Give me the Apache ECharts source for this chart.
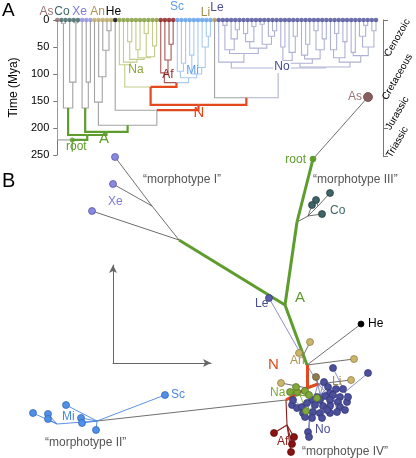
<!DOCTYPE html>
<html><head><meta charset="utf-8">
<script src="https://cdn.jsdelivr.net/npm/echarts@6/dist/echarts.min.js"></script>
<style>html,body{margin:0;padding:0;background:#fff}#c{width:416px;height:458px}</style>
</head><body><div id="c"></div>
<script>
// ================= PANEL A DATA (time tree, node ages in Mya) =================
const cladeCo  = "((Co,Co)6,(Co,(Co,Co)5)115)163g";
const cladeXe  = "(Xe,(Xe,Xe)115)163g";
const cladeAn  = "(An,(An,(An,(An,An)20)56)105)152";
const cladeNa  = "(Na,(Na,((Na,Na)40,((Na,Na)55,((Na,Na)25,(Na,Na)48)68)70)73)78)83";
const cladeAf  = "(Af,(Af,(Af,Af)45)74)98";
const cladeMi  = "((Mi,(Mi,Sc)80)95,((Mi,Mi)65,(Mi,(Mi,(Mi,Mi)30)50)88)100)107";
const cladeNoA = "(Le,(((No,No)10,(No,(No,No)18)35)55,(((No,No)25,(No,No)12)40,((No,No)8,(No,(No,No)20)30)45)52)62)78";
const cladeNoB = "((((No,No)50,(No,(No,No)30)60)75,((No,(No,No)45)65,((No,No)20,(No,No)35)55)72)80,(((No,(No,No)25)55,(No,No)40)70,((No,No)60,((No,(No,No)10)30,(No,No)20)50)66)78)87";
const treeNewick = `(As,(${cladeCo},(${cladeXe},(${cladeAn},(He,((${cladeNa},(${cladeAf},${cladeMi})116r)124r,(Li,(${cladeNoA},${cladeNoB})89)144r)157r)167)195g)207g)213g)222`;
const rootStemEnd = 244;
const timeTicks = [0, 250, 50];            // min, max, interval
const periodNames  = ["Cenozoic", "Cretaceous", "Jurassic", "Triassic"];
const periodBounds = [0, 66, 145, 201, 252];

// ================= PANEL B DATA (morphospace PC1, PC2) =================
const bRoot = [1.05, 0.70];
const bAs = [1.60, 1.32];
const bCo = [[1.22,0.36],[1.08,0.29],[1.04,0.24],[1.14,0.15]];
const bXe = [[-0.93,0.72],[-0.95,0.45],[-1.16,0.18]];
const bAn = [[1.02,-1.13],[0.91,-1.24],[1.46,-1.30],[0.73,-1.54],[1.43,-1.51]];
const bLi = [1.08,-1.48];
const bHe = [1.53,-0.95];
const bLe = [0.61,-0.69];
const bNa = [[0.82,-1.63],[0.89,-1.63],[0.88,-1.58],[0.97,-1.62],[1.01,-1.66],[1.09,-1.69],[0.98,-1.82]];
const bAf = [[0.66,-2.04],[0.86,-2.08],[0.84,-2.15],[0.83,-2.23]];
const bMi = [[-1.75,-1.84],[-1.60,-1.85],[-1.60,-1.90],[-1.42,-1.76],[-1.27,-1.89],[-1.26,-1.94],[-1.12,-2.01]];
const bSc = [-0.43,-1.66];
const bNo = [[1.25,-1.39],[1.60,-1.44],[1.16,-1.53],[1.20,-1.58],[1.28,-1.60],[1.35,-1.60],[1.22,-1.64],[1.17,-1.67],
  [1.25,-1.66],[1.32,-1.68],[1.39,-1.73],[1.30,-1.73],[1.22,-1.71],[1.12,-1.71],[1.04,-1.71],[0.84,-1.76],
  [0.89,-1.79],[0.94,-1.78],[0.99,-1.74],[1.07,-1.76],[1.15,-1.77],[1.22,-1.77],[1.32,-1.78],[1.37,-1.81],
  [0.95,-1.84],[1.05,-1.83],[1.12,-1.84],[1.22,-1.84],[0.97,-1.88],[1.04,-1.89],[1.14,-1.89],[1.00,-2.03],
  [1.01,-2.08],[0.85,-1.71],[1.09,-1.68],[1.19,-1.81],[1.40,-1.68],[1.29,-1.83]];
const bNoParent = [3,3,0,0,3,3,0,0,1,1,3,1,1,0,0,2,2,2,2,2,0,1,1,1,2,2,2,1,2,2,2,2,2,2,0,1,3,1];
// reconstructed ancestral nodes
const bNodes = { gA:[0.89,0.07], coN:[1.00,0.13], coN2:[1.10,0.23], gB:[0.77,-0.76], x0:[-0.29,-0.11],
  x1:[-0.56,0.23], gC:[0.99,-1.36], anN:[0.95,-1.27], nN:[0.99,-1.59], naN:[0.78,-1.71], naH:[0.92,-1.66],
  afN:[0.79,-1.96], m0:[-1.11,-1.92], m1:[-1.51,-1.95], noN:[1.10,-1.55],
  h0:[1.12,-1.66], h1:[1.27,-1.73], h2:[1.02,-1.83], h3:[1.37,-1.63] };
const bEdgesGreen = [['root','gA'],['gA','gB'],['gB','gC'],['x0','gB']];
const bEdgesRed = [['gC','nN'],['nN','naN'],['nN','noN']];
const bEdgesGray = [['root','As'],['x0','x1'],['x1','Xe0'],['x1','Xe1'],['x0','Xe2'],['gA','coN'],['coN','coN2'],
  ['coN2','Co0'],['coN2','Co1'],['coN','Co2'],['coN','Co3'],['gC','He'],['gC','anN'],['anN','An0'],['anN','An1'],
  ['gC','An2'],['nN','An3'],['noN','An4'],['noN','Li'],['m0','naN']];
const bEdgesMi = [['m0','m1'],['m1','Mi0'],['m1','Mi1'],['m1','Mi2'],['m0','Mi3'],['m0','Mi4'],['m0','Mi5'],['m0','Mi6'],['m0','Sc']];

// ================= STYLE =================
const FONT = "Liberation Sans, Arial, Helvetica, sans-serif";
const GREEN = '#5E9C2E', RED = '#E3491D', GRAY = '#A3A3A3';
const tipColor = {As:'#8E6A6A', Co:'#3F6363', Xe:'#8C8CE0', An:'#B8A662', He:'#000000', Na:'#7E9A3A',
  Af:'#8B1A1A', Mi:'#5B9BEA', Sc:'#5B9BEA', Li:'#A89048', Le:'#4A4E96', No:'#4A4E96'};
const cladeOf = {Na:'Na', Af:'Af', Mi:'Mi', Sc:'Mi', Le:'No', No:'No'};
const cladeLine = {Na:'#C3CC8A', Af:'#A85656', Mi:'#A8CAF2', No:'#AFB1D4'};

// ================= BUILD TREE A =================
function parseNewick(s){
  let i = 0, tipIdx = 0;
  function node(){
    if (s[i] === '('){
      i++; const ch = [];
      while (true){ ch.push(node()); if (s[i] === ','){ i++; continue; } if (s[i] === ')'){ i++; break; } }
      let lab = ''; while (i < s.length && /[0-9a-z.]/.test(s[i])) lab += s[i++];
      const m = lab.match(/^([0-9.]+)([a-z]?)$/);
      return {children: ch, age: +m[1], mark: m[2] || ''};
    }
    let nm = ''; while (i < s.length && /[A-Za-z]/.test(s[i])) nm += s[i++];
    return {tip: nm, idx: tipIdx++, age: 0, mark: ''};
  }
  return node();
}
const tree = parseNewick(treeNewick);
const tips = [];
function layout(n){
  if (n.children){
    n.children.forEach(layout);
    n.x = (n.children[0].x + n.children[n.children.length-1].x) / 2;
    n.groups = new Set(); n.children.forEach(c => c.groups.forEach(g => n.groups.add(g)));
  } else { n.x = n.idx; n.groups = new Set([cladeOf[n.tip] || n.tip]); tips.push(n); }
}
layout(tree);
function edgeColor(n){
  if (n.mark === 'g') return GREEN;
  if (n.mark === 'r') return RED;
  if (n.groups.size === 1){ const g = [...n.groups][0]; if (cladeLine[g]) return cladeLine[g]; }
  return GRAY;
}
const treeEdges = [];
(function walk(n){
  if (!n.children) return;
  n.children.forEach(c => {
    const col = edgeColor(c);
    const strong = (col === GREEN || col === RED);
    treeEdges.push({coords: [[n.x, n.age], [c.x, n.age], [c.x, c.age]], lineStyle: {color: col, width: strong ? 2.2 : 1.1}, strong});
    walk(c);
  });
})(tree);
treeEdges.sort((a, b) => (a.strong ? 1 : 0) - (b.strong ? 1 : 0));
treeEdges.push({coords: [[tree.x, tree.age], [tree.x, rootStemEnd]], lineStyle: {color: GREEN, width: 1.1}});

// ================= BUILD PANEL B =================
const pts = Object.assign({root: bRoot, As: bAs, Li: bLi, He: bHe, Le: bLe, Sc: bSc}, bNodes);
[['Co',bCo],['Xe',bXe],['An',bAn],['Na',bNa],['Af',bAf],['Mi',bMi],['No',bNo]].forEach(([k, arr]) => arr.forEach((p, i) => pts[k+i] = p));
const bEdgesNa = [['naN','naH']].concat(bNa.map((p, i) => ['naH', 'Na'+i]));
const bEdgesAf = [['naN','afN']].concat(bAf.map((p, i) => ['afN', 'Af'+i]));
const bEdgesNo = [['h0','noN'],['h1','noN'],['h2','noN'],['h3','noN'],['Le','noN']].concat(bNo.map((p, i) => ['h'+bNoParent[i], 'No'+i]));
function edgeData(list, color, width){ return list.map(([a, b]) => ({coords: [pts[a], pts[b]], lineStyle: {color, width}})); }
const bLines = [].concat(
  edgeData(bEdgesGray, '#4a4a4a', 0.8),
  edgeData(bEdgesMi, '#4A86E0', 0.9),
  edgeData(bEdgesNo, '#6F73B5', 0.8),
  edgeData(bEdgesNa, '#7FA83A', 0.9),
  edgeData(bEdgesAf, '#8B1A1A', 1.1),
  edgeData(bEdgesGreen, GREEN, 3),
  edgeData(bEdgesRed, RED, 3)
);
function scat(name, data, color, border, size){
  return {type: 'scatter', name, xAxisIndex: 2, yAxisIndex: 2, data, symbolSize: size, z: 5,
    itemStyle: {color, borderColor: border, borderWidth: 0.7, opacity: 1}, silent: true, animation: false};
}

// ================= LABELS =================
const L = (text, x, y, fill, size, align, extra) => Object.assign({type: 'text', x, y, z: 50,
  style: {text, fill, fontSize: size, fontFamily: FONT, align: align || 'left', verticalAlign: 'middle'}}, extra || {});
const labels = [
  L('A', 2, 11, '#000', 19), L('B', 2, 181, '#000', 20),
  L('As', 46.5, 12, '#9C7474', 12, 'center'), L('Co', 62, 12, '#3F6666', 12, 'center'),
  L('Xe', 79.5, 12, '#7B7BD6', 12, 'center'), L('An', 97.5, 12, '#B09456', 12, 'center'),
  L('He', 113.5, 12, '#000', 12, 'center'), L('Sc', 177, 7, '#5B9BEA', 12, 'center'),
  L('Li', 205.5, 13, '#A08C48', 12, 'center'), L('Le', 217, 8, '#4A4E96', 12, 'center'),
  L('Na', 136, 70, '#8CA33A', 12, 'center'), L('Af', 168, 75, '#9A1F1F', 12, 'center'),
  L('Mi', 192.5, 71, '#64A0EC', 12, 'center'),
  L('No', 282, 67, '#454A94', 12, 'center', {}),
  L('N', 199, 113, RED, 15, 'center'), L('A', 104, 139, GREEN, 15, 'center'),
  L('root', 66, 147, GREEN, 12),
  L('\u201cmorphotype I\u201d', 143, 180, '#555', 12), L('\u201cmorphotype III\u201d', 313, 180, '#555', 12),
  L('root', 306, 160, GREEN, 12, 'right'), L('As', 362, 97, '#9C7474', 12, 'right'),
  L('Co', 330, 211, '#3F6666', 12), L('Xe', 108, 202, '#7B7BD6', 12),
  L('Le', 255, 304, '#4A4E96', 12), L('A', 295, 298, GREEN, 15),
  L('He', 368, 324, '#000', 12), L('An', 290, 361, '#B09456', 12),
  L('N', 268, 365, RED, 15), L('Li', 332, 382, '#A08C48', 12),
  L('Na', 270, 393, '#7FA83A', 12), L('No', 315, 430, '#4A4E96', 12),
  L('Af', 277, 442, '#8B1A1A', 12), L('\u201cmorphotype IV\u201d', 302, 452, '#555', 12),
  L('\u201cmorphotype II\u201d', 45, 443, '#555', 12), L('Mi', 62, 417, '#4A86E0', 12),
  L('Sc', 171, 395, '#4A86E0', 12)
];
// white gap behind "No" in panel A
labels[13].style.backgroundColor = '#fff';
labels[13].style.padding = [0, 1];

// ================= CHART =================
const hiddenAxis = {show: false};
const periodMids = periodNames.map((n, i) => (periodBounds[i] + periodBounds[i+1]) / 2);
const chart = echarts.init(document.getElementById('c'), null, {renderer: 'canvas'});
chart.setOption({
  animation: false,
  textStyle: {fontFamily: FONT},
  grid: [
    {left: 45, top: 20, width: 331, height: 135},
    {left: 383, top: 20, width: 1, height: 136},
    {left: 0, right: 0, top: 0, bottom: 0},
    {left: 113, top: 265, width: 98, height: 98}
  ],
  xAxis: [
    {gridIndex: 0, type: 'value', min: 0, max: 77, show: false},
    {gridIndex: 1, type: 'value', show: false},
    {gridIndex: 2, type: 'value', min: -2.08, max: 2.08, show: false},
    {gridIndex: 3, type: 'value', min: 0, max: 1, axisLine: {show: true, onZero: false, symbol: ['none', 'arrow'], symbolSize: [6, 8], lineStyle: {color: '#666', width: 1}},
      axisTick: {show: false}, axisLabel: {show: false}, splitLine: {show: false}}
  ],
  yAxis: [
    {gridIndex: 0, type: 'value', inverse: true, min: timeTicks[0], max: timeTicks[1], interval: timeTicks[2], offset: 4,
      name: 'Time (Mya)', nameLocation: 'middle', nameGap: 27, nameTextStyle: {fontSize: 12, color: '#000', fontFamily: FONT},
      axisLine: {show: true, lineStyle: {color: '#777'}}, axisTick: {show: true, length: 4, lineStyle: {color: '#777'}},
      axisLabel: {fontSize: 11, color: '#000', margin: 4, fontFamily: FONT}, splitLine: {show: false}},
    {gridIndex: 1, type: 'value', position: 'right', inverse: true, min: 0, max: 252,
      axisLine: {show: true, lineStyle: {color: '#777'}},
      axisTick: {show: true, length: 5, customValues: periodBounds, lineStyle: {color: '#777'}},
      axisLabel: {customValues: periodMids, rotate: 60, fontSize: 10, color: '#000', margin: 14, align: 'center', verticalAlign: 'middle',
        fontFamily: FONT, formatter: v => periodNames[periodMids.indexOf(v)] || ''},
      splitLine: {show: false}},
    {gridIndex: 2, type: 'value', min: -2.29, max: 2.29, show: false},
    {gridIndex: 3, type: 'value', min: 0, max: 1, axisLine: {show: true, onZero: false, symbol: ['none', 'arrow'], symbolSize: [6, 8], lineStyle: {color: '#666', width: 1}},
      axisTick: {show: false}, axisLabel: {show: false}, splitLine: {show: false}}
  ],
  graphic: labels,
  series: [
    {type: 'lines', coordinateSystem: 'cartesian2d', xAxisIndex: 0, yAxisIndex: 0, polyline: true, silent: true,
      data: treeEdges, lineStyle: {opacity: 1}, z: 2},
    {type: 'scatter', xAxisIndex: 0, yAxisIndex: 0, symbolSize: 4.6, silent: true, z: 4, clip: false,
      data: tips.map(t => ({value: [t.x, 0], itemStyle: {color: tipColor[t.tip]}}))},
    {type: 'scatter', xAxisIndex: 0, yAxisIndex: 0, symbolSize: 5, silent: true, z: 4, clip: false,
      data: [[tree.x, tree.age]], itemStyle: {color: GREEN}},
    {type: 'lines', coordinateSystem: 'cartesian2d', xAxisIndex: 2, yAxisIndex: 2, polyline: false, silent: true,
      data: bLines, lineStyle: {opacity: 1}, z: 3},
    scat('Co', bCo, '#3E6467', '#223838', 7),
    scat('Xe', bXe, '#8888E0', '#4F4FA0', 7),
    scat('An', bAn, '#C9B46A', '#8A7840', 7),
    scat('Li', [bLi], '#8E7E4E', '#5E5030', 7),
    scat('He', [bHe], '#000', '#000', 6),
    scat('Le', [bLe], '#5A5EA8', '#2E3070', 7),
    scat('No', bNo, '#4C509C', '#2E3070', 7),
    scat('Na', bNa, '#7FA83A', '#4F6E1E', 7),
    scat('Af', bAf, '#8B1212', '#5A0808', 7),
    scat('Mi', bMi.concat([bSc]), '#5090E8', '#2F5FAF', 7),
    scat('As', [bAs], '#8B5E5E', '#5A3A3A', 9),
    scat('root', [bRoot], GREEN, GREEN, 6)
  ]
});
</script></body></html>
